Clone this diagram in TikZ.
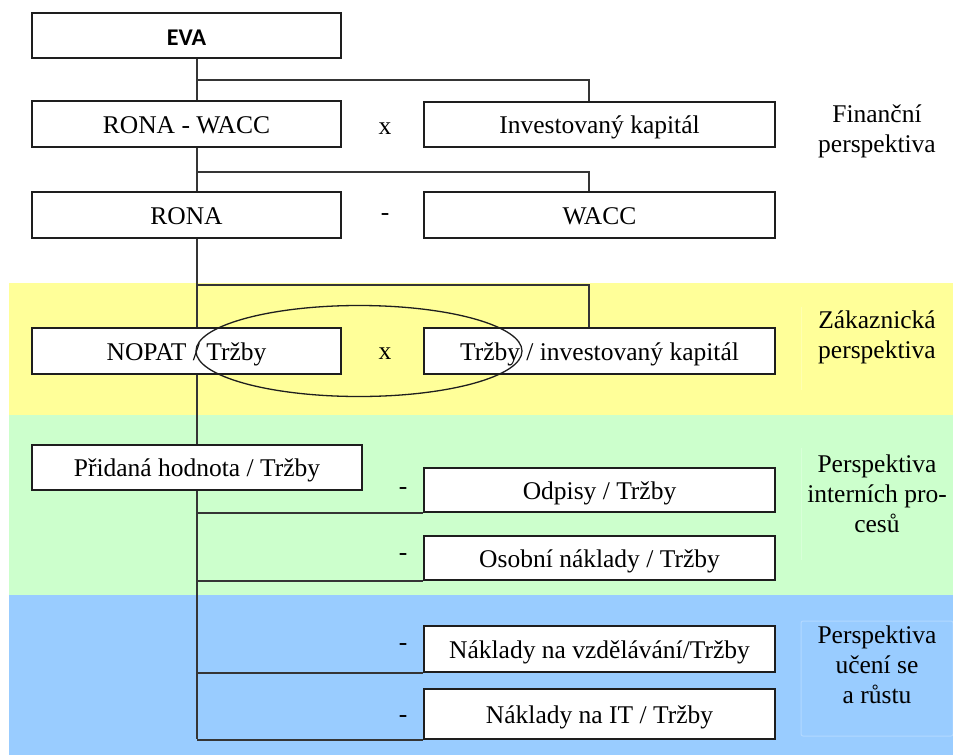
\documentclass[tikz,border=0pt]{standalone}
\usepackage{fontspec}
\setmainfont{Liberation Serif}
\newfontfamily\evafont{Carlito}
\usetikzlibrary{shapes.geometric}
\definecolor{bandyellow}{HTML}{FFFF99}
\definecolor{bandgreen}{HTML}{CCFFCC}
\definecolor{bandblue}{HTML}{99CCFF}
\definecolor{inkline}{HTML}{1E1E1E}
\tikzset{
  box/.style={draw=inkline, line width=1.6pt, fill=white, inner sep=0pt,
    minimum height=45pt, text height=18.5pt, text depth=0pt,
    font=\fontsize{25.5}{30}\selectfont},
  leftbox/.style={box, minimum width=309pt},
  rightbox/.style={box, minimum width=351pt},
  conn/.style={draw=inkline!90, line width=1.4pt},
  op/.style={inner sep=0pt, font=\fontsize{25.5}{30}\selectfont},
  persp/.style={align=center, inner sep=0pt, font=\fontsize{25.5}{30}\selectfont},
  faintframe/.style={draw=white, opacity=0.25, line width=1pt, rounded corners=2pt}
}
\begin{document}
\begin{tikzpicture}[x=1pt, y=-1pt]
\useasboundingbox (0,0) rectangle (953,755);
\fill[white] (0,0) rectangle (953,755);
% perspective bands
\fill[bandyellow] (9,283) rectangle (953,415);
\fill[bandgreen]  (9,415) rectangle (953,595);
\fill[bandblue]   (9,595) rectangle (953,755);
% faint frames left around the band captions
\draw[faintframe] (801,307) -- (801,390);
\draw[faintframe] (801,448) -- (801,560);
\draw[faintframe] (801,621) rectangle (953,736);

% trunk and branch points
\coordinate (t0) at (197,58);
\coordinate (t1) at (197,739);
\coordinate (j1) at (197,80);
\coordinate (j2) at (197,172);
\coordinate (j3) at (197,285);
\draw[conn] (t0) -- (t1);

% boxes
\node[box, minimum width=309pt, text height=19pt, text depth=0pt, font=\evafont\bfseries\fontsize{24}{28}\selectfont] (eva) at (186.5,35.5) {EVA};
\node[leftbox, minimum height=46pt] (rw) at (186.5,124) {RONA - WACC};
\node[rightbox] (ik) at (599.5,124.5) {Investovaný kapitál};
\node[leftbox, minimum height=46pt] (rona) at (186.5,215) {RONA};
\node[rightbox, minimum height=46pt] (wacc) at (599.5,215) {WACC};
\node[leftbox, minimum height=46pt] (nopat) at (186.5,351) {NOPAT / Tržby};
\node[rightbox, minimum height=46pt] (tik) at (599.5,351) {Tržby / investovaný kapitál};
\node[box, minimum width=330pt] (ph) at (197,467.5) {Přidaná hodnota / Tržby};
\node[rightbox, minimum height=44pt] (odp) at (599.5,490) {Odpisy / Tržby};
\node[rightbox, minimum height=44pt] (oso) at (599.5,558) {Osobní náklady / Tržby};
\node[rightbox, minimum height=46pt] (nvz) at (599.5,649) {Náklady na vzdělávání/Tržby};
\node[rightbox, minimum height=50pt] (nit) at (599.5,714) {Náklady na IT / Tržby};

% branches
\draw[conn] (j1) -| ([xshift=-10.5pt]ik.north);
\draw[conn] (j2) -| ([xshift=-10.5pt]wacc.north);
\draw[conn] (j3) -| ([xshift=-10.5pt]tik.north);
\draw[conn] (odp.south west -| t0) -- (odp.south west);
\draw[conn] (oso.south west -| t0) -- (oso.south west);
\draw[conn] (nvz.south west -| t0) -- (nvz.south west);
\draw[conn] (nit.south west -| t0) -- (nit.south west);

% shared term
\node[draw=inkline, line width=1.3pt, ellipse, minimum width=326pt, minimum height=91pt] (shared) at (359,351) {};

% operators
\node[op] (op1) at (385,128.5) {x};
\node[op] (op2) at (385,217) {-};
\node[op] (op3) at (385,354) {x};
\node[op] (op4) at (403,491) {-};
\node[op] (op5) at (403,557) {-};
\node[op] (op6) at (403,647) {-};
\node[op] (op7) at (403,719) {-};

% perspective labels
\node[persp] (pf) at (877,131) {Finanční\\perspektiva};
\node[persp] (pz) at (877,337) {Zákaznická\\perspektiva};
\node[persp] (pi) at (877,494) {Perspektiva\\interních pro-\\cesů};
\node[persp] (pu) at (877,665) {Perspektiva\\učení se\\a růstu};
\end{tikzpicture}
\end{document}
